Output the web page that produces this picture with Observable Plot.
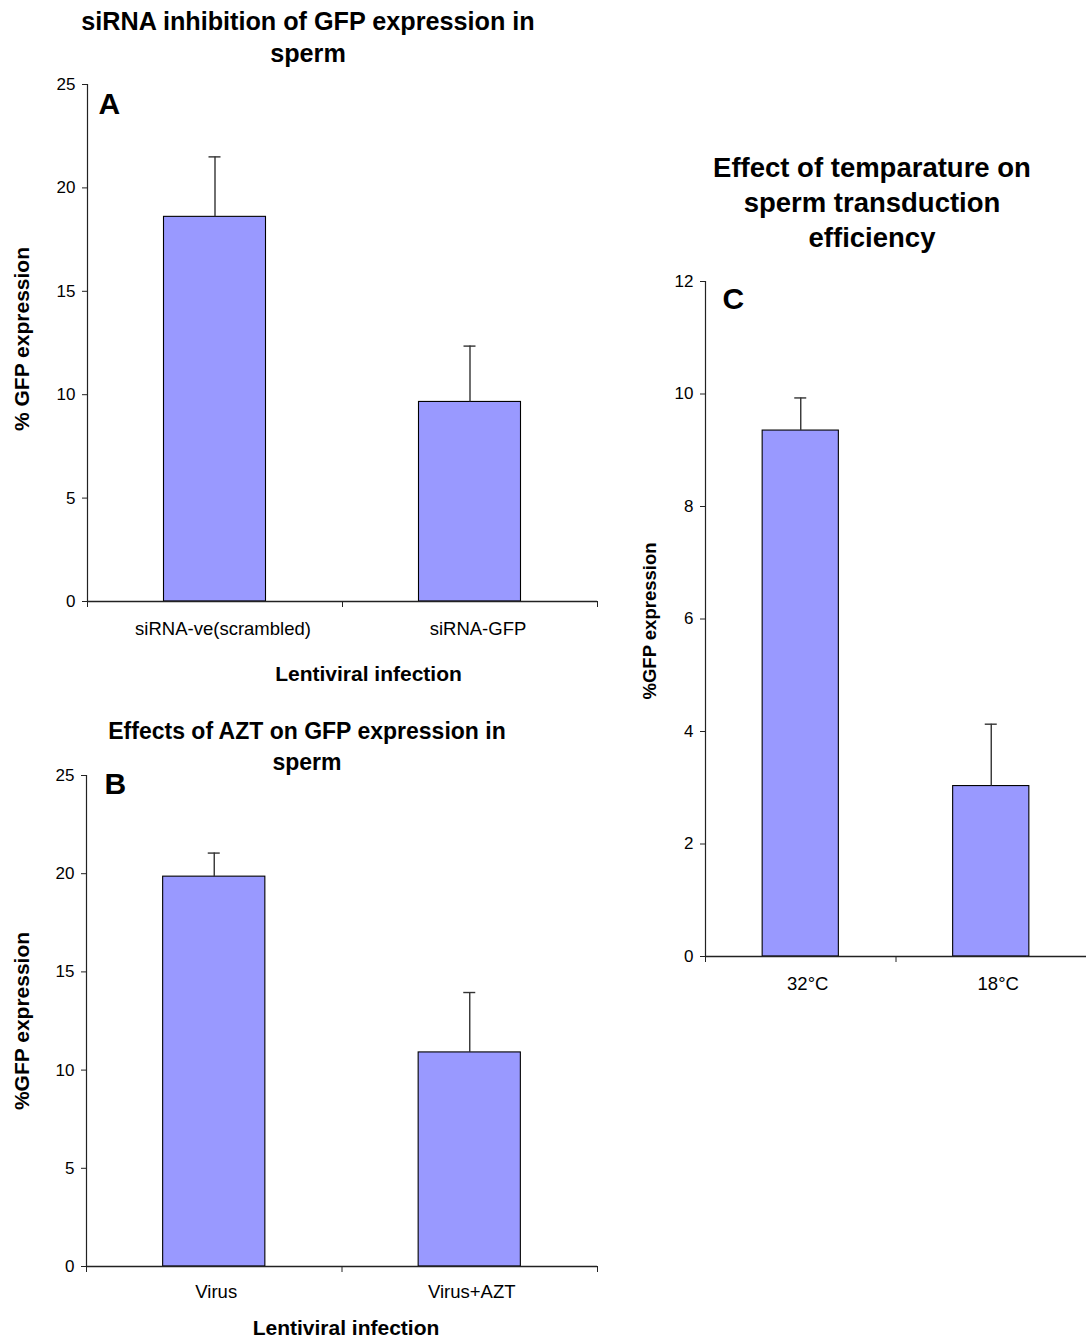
<!DOCTYPE html>
<html>
<head>
<meta charset="utf-8">
<script src="https://cdn.jsdelivr.net/npm/d3@7"></script>
<script src="https://cdn.jsdelivr.net/npm/@observablehq/plot@0.6"></script>
<style>
  html, body { margin: 0; padding: 0; background: #fff; }
  #root { position: relative; width: 1086px; height: 1339px; overflow: hidden; background: #fff;
          font-family: "Liberation Sans", Arial, sans-serif; color: #000; }
  .title { position: absolute; text-align: center; font-weight: bold; color: #000; }
  .panel { position: absolute; }
</style>
</head>
<body>
<div id="root">
  <div class="title" style="left:0px; top:5px; width:616px; font-size:25.2px; line-height:32px;">siRNA inhibition of GFP expression in<br>sperm</div>
  <div class="title" style="left:0px; top:716px; width:614px; font-size:23px; line-height:31px;">Effects of AZT on GFP expression in<br>sperm</div>
  <div class="title" style="left:658px; top:150px; width:428px; font-size:27.5px; line-height:35px;">Effect of temparature on<br>sperm transduction<br>efficiency</div>
  <div class="panel" id="pA" style="left:0px; top:70px;"></div>
  <div class="panel" id="pB" style="left:0px; top:760px;"></div>
  <div class="panel" id="pC" style="left:640px; top:260px;"></div>
</div>
<script>
// ---- data ----
const catsA = ["siRNA-ve(scrambled)", "siRNA-GFP"];
const valsA = [18.6, 9.65];
const errsA = [2.9, 2.7];
const ticksA = [0, 5, 10, 15, 20, 25];

const catsB = ["Virus", "Virus+AZT"];
const valsB = [19.85, 10.9];
const errsB = [1.2, 3.05];
const ticksB = [0, 5, 10, 15, 20, 25];

const catsC = ["32°C", "18°C"];
const valsC = [9.35, 3.03];
const errsC = [0.58, 1.1];
const ticksC = [0, 2, 4, 6, 8, 10, 12];

function panel(o) {
  const data = o.cats.map((c, i) => ({c, i, v: o.vals[i], e: o.errs[i]}));
  const n = o.cats.length;
  return Plot.plot({
    width: o.width, height: o.height,
    marginTop: o.mt, marginRight: o.mr, marginBottom: o.mb, marginLeft: o.ml,
    style: {fontFamily: "'Liberation Sans', Arial, sans-serif", fontSize: "17px", color: "#000", background: "transparent", overflow: "visible"},
    x: {type: "linear", domain: [0, n], axis: null},
    y: {domain: [0, o.yTicks[o.yTicks.length - 1]], axis: null},
    marks: [
      Plot.rectY(data, {x1: d => d.i + 0.3, x2: d => d.i + 0.7, y1: d => 0, y2: "v", fill: "#9999FF", stroke: "#000", strokeWidth: 1.1}),
      Plot.ruleX(data, {x: d => d.i + 0.5, y1: "v", y2: d => d.v + d.e, stroke: "#333", strokeWidth: 1.4}),
      Plot.ruleY(data, {x1: d => d.i + 0.5, x2: d => d.i + 0.5, y: d => d.v + d.e, insetLeft: -6, insetRight: -6, stroke: "#333", strokeWidth: 1.4}),
      Plot.ruleX([0], {stroke: "#222", strokeWidth: 1.2}),
      Plot.ruleY([0], {stroke: "#222", strokeWidth: 1.5}),
      Plot.axisY({ticks: o.yTicks, tickSize: 5, tickPadding: 7, label: null, fontSize: 17, stroke: "#222"}),
      Plot.axisX({ticks: d3.range(n + 1), tickSize: 6, tickFormat: () => "", label: null, stroke: "#222"}),
      Plot.text(data, {x: d => d.i + 0.5, text: "c", frameAnchor: "bottom", dy: o.catDy, dx: o.catDx, fontSize: 18.5, fill: "#000", lineAnchor: "middle"}),
      Plot.text([o.yLabel], {frameAnchor: "left", dx: o.yLabelDx, dy: o.yLabelDy, rotate: -90, fontWeight: "bold", fontSize: o.yLabelSize, fill: "#000", textAnchor: "middle", lineAnchor: "middle"}),
      ...(o.xLabel ? [Plot.text([o.xLabel], {frameAnchor: "bottom", dy: o.xLabelDy, dx: o.xLabelDx, fontWeight: "bold", fontSize: 21, fill: "#000", lineAnchor: "middle"})] : []),
      Plot.text([o.letter], {frameAnchor: "top-left", dx: o.letterDx, dy: o.letterDy, fontWeight: "bold", fontSize: 30, fill: "#000", textAnchor: "start", lineAnchor: "middle"})
    ]
  });
}

document.getElementById("pA").appendChild(panel({
  cats: catsA, vals: valsA, errs: errsA, yTicks: ticksA,
  width: 620, height: 630, mt: 14, mr: 23, mb: 99, ml: 87,
  catDy: 28, catDx: 8, yLabel: "% GFP expression", yLabelDx: -65, yLabelDy: -4, yLabelSize: 21,
  xLabel: "Lentiviral infection", xLabelDy: 73, xLabelDx: 26,
  letter: "A", letterDx: 11, letterDy: 20
}));

document.getElementById("pB").appendChild(panel({
  cats: catsB, vals: valsB, errs: errsB, yTicks: ticksB,
  width: 620, height: 579, mt: 15, mr: 23, mb: 73, ml: 86,
  catDy: 26, catDx: 2, yLabel: "%GFP expression", yLabelDx: -64, yLabelDy: 0, yLabelSize: 21,
  xLabel: "Lentiviral infection", xLabelDy: 62, xLabelDx: 4,
  letter: "B", letterDx: 18, letterDy: 9
}));

document.getElementById("pC").appendChild(panel({
  cats: catsC, vals: valsC, errs: errsC, yTicks: ticksC,
  width: 446, height: 760, mt: 21, mr: 0, mb: 64, ml: 65,
  catDy: 28, catDx: 7, yLabel: "%GFP expression", yLabelDx: -55, yLabelDy: 2, yLabelSize: 18.5,
  xLabel: null,
  letter: "C", letterDx: 17, letterDy: 18
}));
</script>
</body>
</html>
